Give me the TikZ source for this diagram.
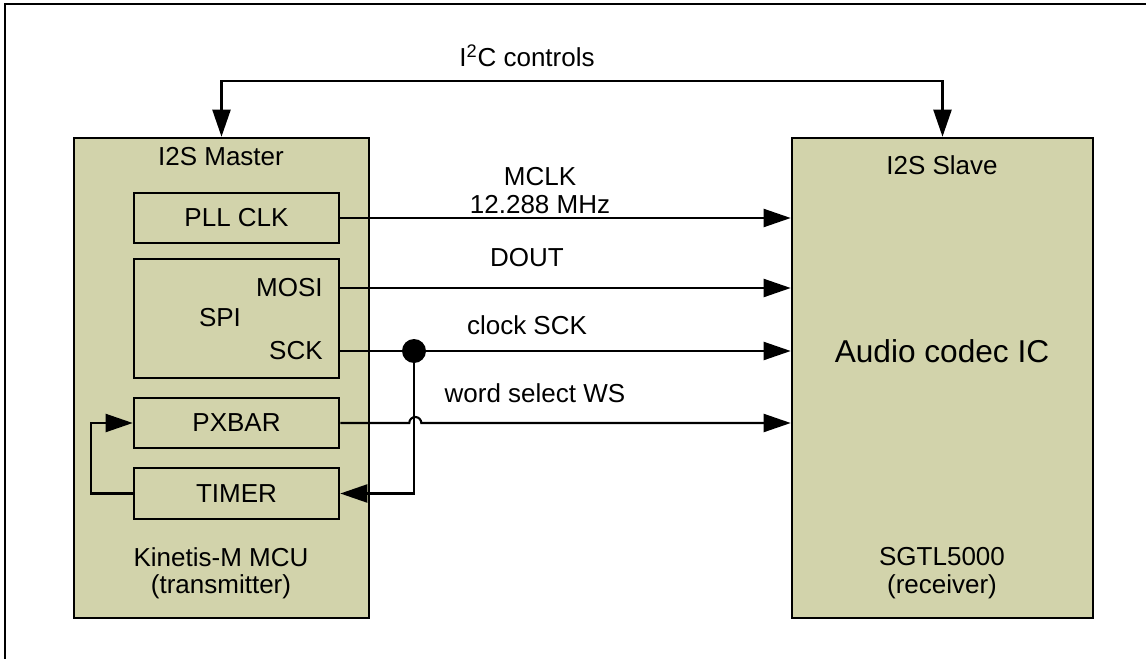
\documentclass[tikz,border=0pt]{standalone}
\usepackage{fontspec}
\setmainfont{Liberation Sans}
\usetikzlibrary{arrows.meta}
\definecolor{chipfill}{RGB}{210,211,171}
\begin{document}
\begin{tikzpicture}
		[x=0.02cm,y=-0.02cm,
		font=\fontsize{14.8}{17}\selectfont,
		chip/.style={rectangle,draw,line width=1.5pt,fill=chipfill,inner sep=0pt},
		unit/.style={chip,minimum width=4.1cm,minimum height=1cm},
		txt/.style={inner sep=0pt},
		wire/.style={line width=1.2pt},
		tip/.tip={Triangle[length=5.4mm,width=3.6mm]},
		sig/.style={wire,-tip}]
		\useasboundingbox (0,0) rectangle (1146,659);
		\draw[wire] (1146,4) -| (5,659);
		\node[chip,minimum width=5.9cm,minimum height=9.6cm,name=master] at (221.5,378) {};
		\node[chip,minimum width=6.02cm,minimum height=9.6cm,name=slave] at (942.5,378) {};
		\node[unit,name=pll] at (236.5,218) {PLL CLK};
		\node[unit,minimum height=2.38cm,name=spi] at (236.5,318.5) {};
		\node[unit,name=pxbar] at (236.5,423) {PXBAR};
		\node[unit,minimum height=1.02cm,name=timer] at (236.5,493.5) {TIMER};
		\node[txt,name=spiname] at (220,318) {SPI};
		\node[txt,anchor=east,name=mosi] at (323,288) {MOSI};
		\node[txt,anchor=east,name=sck] at (323,351) {SCK};
		\node[txt,name=mastername] at (221,157) {I2S Master};
		\node[txt,name=mcu] at (221,557) {Kinetis-M MCU};
		\node[txt,name=mcurole] at (221,587) {(transmitter)};
		\node[txt,name=slavename] at (942,165) {I2S Slave};
		\node[txt,font=\fontsize{18}{21}\selectfont,name=codec] at (942,351) {Audio codec IC};
		\node[txt,name=sgtl] at (942,557) {SGTL5000};
		\node[txt,name=sgtlrole] at (942,587) {(receiver)};
		\node[txt,name=i2c] at (527,56) {I\textsuperscript{2}C controls};
		\node[txt,name=mclk] at (540,177) {MCLK};
		\node[txt,name=freq] at (540,205) {12.288 MHz};
		\node[txt,name=dout] at (527,258) {DOUT};
		\node[txt,name=clk] at (527,325) {clock SCK};
		\node[txt,name=ws] at (535,393) {word select WS};
		\draw[wire,tip-tip] (master.north) -- ++(0,-56) -| (slave.north);
		\draw[sig] (pll.east) -- (pll.east -| slave.west);
		\draw[sig] (spi.east |- mosi) -- (mosi -| slave.west);
		\draw[sig] (spi.east |- sck) -- (sck -| slave.west);
		\draw[sig] (pxbar.east) -- ++(69,0) arc[start angle=180,end angle=360,radius=6] -- (pxbar.east -| slave.west);
		\node[circle,fill,inner sep=0pt,minimum size=0.48cm,name=dot] at (414,351) {};
		\draw[sig] (dot.center) |- (timer.east);
		\draw[sig] (timer.west) -- ++(-42,0) |- (pxbar.west);
	\end{tikzpicture}
\end{document}
